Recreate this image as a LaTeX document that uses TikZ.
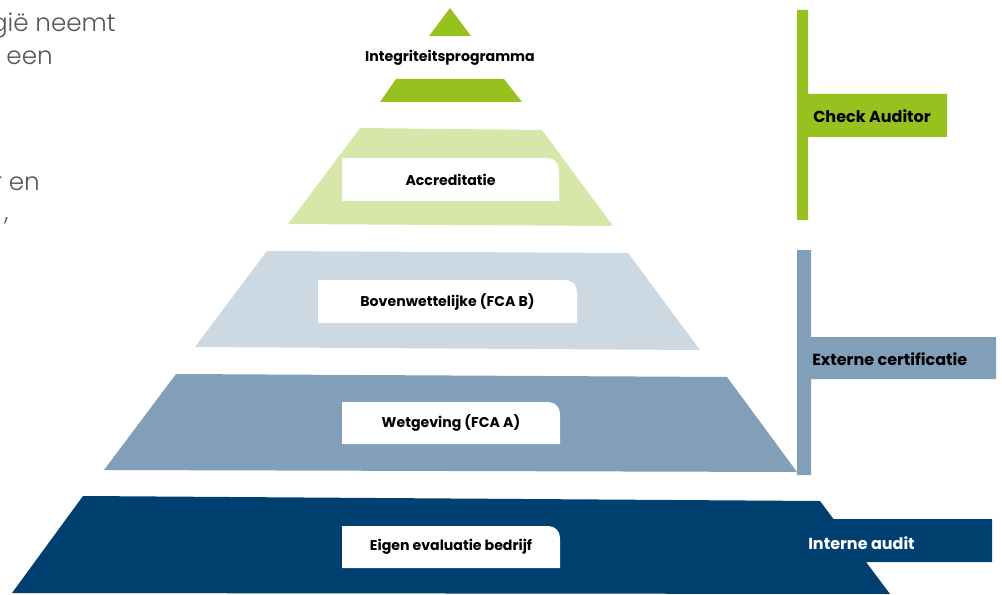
\documentclass[tikz,border=0pt]{standalone}
\usepackage{fontspec}
\setmainfont{Poppins}
\newfontfamily\introfont[UprightFont={* Light}]{Poppins}
\usetikzlibrary{positioning}
\definecolor{auditgreen}{RGB}{150,193,31}
\definecolor{accredgreen}{RGB}{215,231,169}
\definecolor{bovenblue}{RGB}{204,217,227}
\definecolor{certblue}{RGB}{129,159,185}
\definecolor{internnavy}{RGB}{0,64,112}
\definecolor{introgray}{RGB}{85,85,85}

\tikzset{
  tierlbl/.style={font=\fontsize{10.6}{12}\selectfont\bfseries, text=black, inner sep=0pt},
  sidelbl/.style={font=\fontsize{12}{14}\selectfont\bfseries, anchor=west, inner sep=0pt},
  introtxt/.style={font=\introfont\fontsize{18.5}{22}\selectfont, text=introgray, anchor=base east, inner sep=0pt}
}

% white label box with one rounded corner (top right)
\newcommand{\labelbox}[6]{%
  \fill[white] (#2,#5) -- (#2,#3) -- ({#4-12},#3) .. controls ({#4-5},#3) and (#4,{#3+5}) .. (#4,{#3+12}) -- (#4,#5) -- cycle;
  \node[tierlbl] (#1) at ({(#2+#4)/2},{(#3+#5)/2}) {#6};
}

\begin{document}
\begin{tikzpicture}[x=0.75pt,y=-0.75pt]
				\useasboundingbox (0,0) rectangle (1002,595);
				\clip (0,0) rectangle (1002,595);
				
				% Draw cut-off intro text
				\node[introtxt] (intro1) at (116,32) {gië neemt};
				\node[introtxt] (intro2) at (53,65) {een};
				\node[introtxt] (intro3) at (40,191) {r en};
				\node[introtxt] (intro4) at (9,221) {,};
				
				% Draw pyramid tiers
				\fill[auditgreen] (450,8) -- (471,36) -- (429,36) -- cycle;
				\fill[auditgreen] (396,79) -- (504,79) -- (522,102) -- (380,102) -- cycle;
				\fill[accredgreen] (360,128) -- (542,130) -- (613,226) -- (288,224) -- cycle;
				\fill[bovenblue] (267,251) -- (628,253) -- (700,350) -- (195,347) -- cycle;
				\fill[certblue] (176,374) -- (727,377) -- (797,472) -- (104,470) -- cycle;
				\fill[internnavy] (83,496) -- (820,501) -- (833.5,519) -- (992,519) -- (992,562) -- (866,562) -- (890,594) -- (12,593) -- cycle;
				
				% Draw tier labels
				\node[tierlbl] (integ) at (450,58) {Integriteitsprogramma};
				\labelbox{accred}{342}{158}{559}{201}{Accreditatie}
				\labelbox{boven}{318}{280}{577}{323}{Bovenwettelijke (FCA B)}
				\labelbox{wet}{342}{402}{560}{444}{Wetgeving (FCA A)}
				\labelbox{eigen}{342}{526}{560}{568}{Eigen evaluatie bedrijf}
				
				% Draw side brackets
				\fill[auditgreen] (797,10) -- (808,10) -- (808,94) -- (947,94) -- (947,137) -- (808,137) -- (808,220) -- (797,220) -- cycle;
				\fill[certblue] (797,250) -- (811,250) -- (811,337) -- (996,337) -- (996,379) -- (811,379) -- (811,475) -- (797,475) -- cycle;
				
				\node[sidelbl] (check) at (813,116) {Check Auditor};
				\node[sidelbl] (extern) at (812,359) {Externe certificatie};
				\node[sidelbl, text=white] (intern) at (808,543) {Interne audit};
			\end{tikzpicture}
\end{document}
